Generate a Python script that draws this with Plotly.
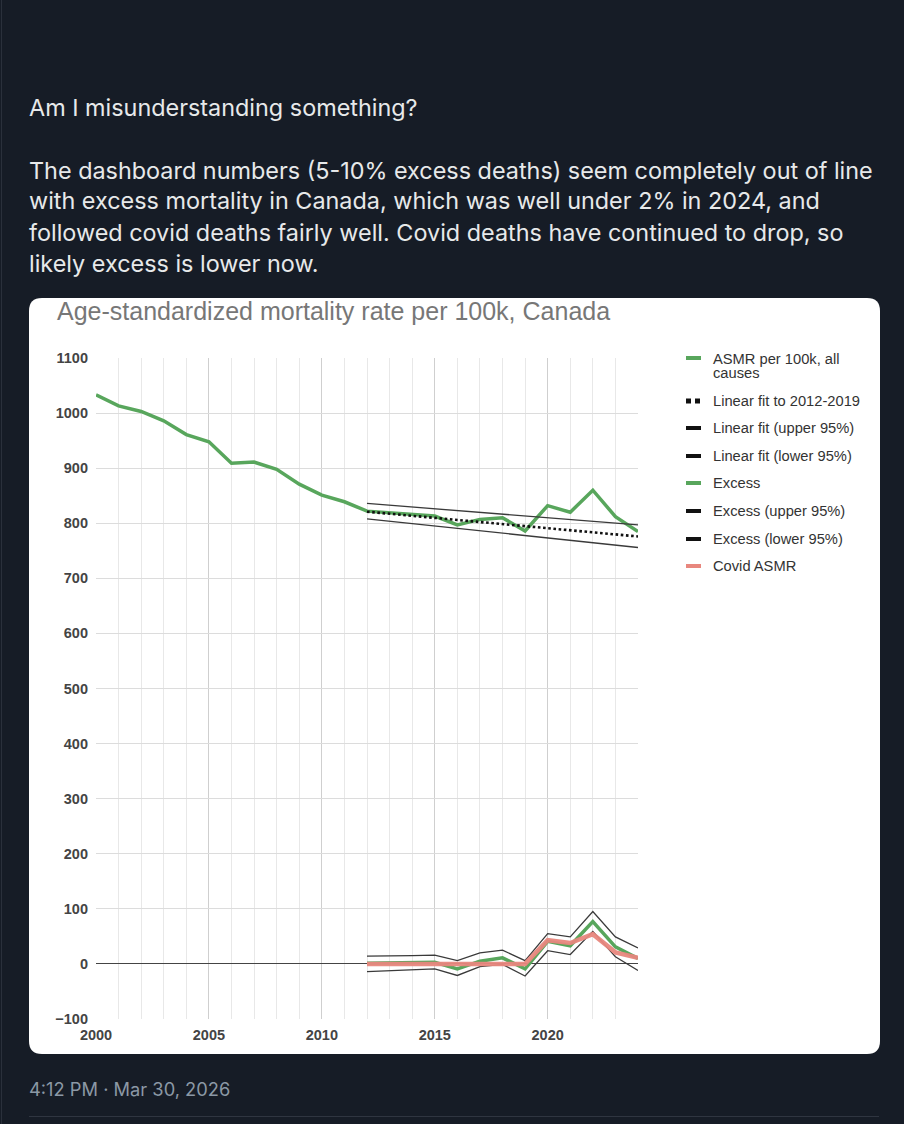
import plotly.graph_objects as go

# ---------------- data ----------------
years = [2000, 2001, 2002, 2003, 2004, 2005, 2006, 2007, 2008, 2009, 2010, 2011,
         2012, 2013, 2014, 2015, 2016, 2017, 2018, 2019, 2020, 2021, 2022, 2023, 2024]
asmr = [1033, 1013, 1003, 986, 961, 948, 909, 911, 898, 871, 851, 839,
        822, 819, 817, 813, 797, 807, 810, 786, 832, 820, 860, 812, 785]

fit_years = [2012, 2024]
fit_mid = [821, 776]
fit_upper = [836, 797]
fit_lower = [808, 756]

ex_years = [2012, 2013, 2014, 2015, 2016, 2017, 2018, 2019, 2020, 2021, 2022, 2023, 2024]
excess = [1, 2, 3, 3, -9, 5, 11, -9, 41, 33, 77, 31, 10]
excess_upper = [14, 14, 15, 16, 6, 20, 25, 6, 55, 49, 95, 49, 29]
excess_lower = [-14, -12, -10, -9, -21, -5, -1, -22, 24, 17, 59, 13, -12]
covid = [0, 0, 0, 0, 0, 0, 0, 0, 43, 38, 54, 21, 11]

legend_labels = ["ASMR per 100k, all", "causes", "Linear fit to 2012-2019",
                 "Linear fit (upper 95%)", "Linear fit (lower 95%)", "Excess",
                 "Excess (upper 95%)", "Excess (lower 95%)", "Covid ASMR"]

heading = "Am I misunderstanding something?"
paragraph = ["The dashboard numbers (5-10% excess deaths) seem completely out of line",
             "with excess mortality in Canada, which was well under 2% in 2024, and",
             "followed covid deaths fairly well. Covid deaths have continued to drop, so",
             "likely excess is lower now."]
chart_title = "Age-standardized mortality rate per 100k, Canada"
timestamp = "4:12 PM \u00b7 Mar 30, 2026"

# ---------------- geometry ----------------
W, H = 904, 1124
X0, X1 = 96, 638      # plot area left/right in px
Y0, Y1 = 358, 1019    # plot area top/bottom in px

def px(x):
    return (x - X0) / (X1 - X0)

def py(y):
    return (Y1 - y) / (Y1 - Y0)

GREEN = "#58a65c"
PINK = "#e8877e"
DARK = "#3a3a3a"
BG = "#161c26"
CHART_FONT = "Liberation Sans, Arial, sans-serif"
POST_FONT = "Inter, Roboto, sans-serif"

fig = go.Figure()
fig.add_trace(go.Scatter(x=years, y=asmr, mode="lines",
                         line=dict(color=GREEN, width=3.5), name="ASMR"))
fig.add_trace(go.Scatter(x=fit_years, y=fit_mid, mode="lines",
                         line=dict(color="#111111", width=2.6, dash="2.6px,2.6px"), name="fit"))
fig.add_trace(go.Scatter(x=fit_years, y=fit_upper, mode="lines",
                         line=dict(color=DARK, width=1.3), name="fit upper"))
fig.add_trace(go.Scatter(x=fit_years, y=fit_lower, mode="lines",
                         line=dict(color=DARK, width=1.3), name="fit lower"))
fig.add_trace(go.Scatter(x=ex_years, y=excess, mode="lines",
                         line=dict(color=GREEN, width=3.5), name="Excess"))
fig.add_trace(go.Scatter(x=ex_years, y=excess_upper, mode="lines",
                         line=dict(color=DARK, width=1.3), name="Excess upper"))
fig.add_trace(go.Scatter(x=ex_years, y=excess_lower, mode="lines",
                         line=dict(color=DARK, width=1.3), name="Excess lower"))
fig.add_trace(go.Scatter(x=ex_years, y=covid, mode="lines",
                         line=dict(color=PINK, width=4.5), opacity=0.95, name="Covid"))

shapes = []
# white rounded card
L, T, R, B, r = 29, 298, 880, 1054, 13
def P(x, y):
    return f"{px(x)},{py(y)}"
path = (f"M {P(L+r,T)} L {P(R-r,T)} Q {P(R,T)} {P(R,T+r)} L {P(R,B-r)} "
        f"Q {P(R,B)} {P(R-r,B)} L {P(L+r,B)} Q {P(L,B)} {P(L,B-r)} "
        f"L {P(L,T+r)} Q {P(L,T)} {P(L+r,T)} Z")
shapes.append(dict(type="path", xref="paper", yref="paper", path=path,
                   fillcolor="white", line=dict(width=0), layer="below"))
# separator and left border
shapes.append(dict(type="line", xref="paper", yref="paper",
                   x0=px(29), x1=px(879), y0=py(1116.5), y1=py(1116.5),
                   line=dict(color="#2f3540", width=1)))
shapes.append(dict(type="line", xref="paper", yref="paper",
                   x0=px(1.5), x1=px(1.5), y0=py(0), y1=py(H),
                   line=dict(color="#2a303b", width=1)))

# manual legend
leg_y = [358, None, 401, 428, 456, 483, 511, 539, 566]
leg_col = [GREEN, None, "dots", "#111", "#111", GREEN, "#111", "#111", PINK]
for yy, c in zip(leg_y, leg_col):
    if yy is None:
        continue
    if c == "dots":
        for xa in (686, 695):
            shapes.append(dict(type="rect", xref="paper", yref="paper",
                               x0=px(xa), x1=px(xa + 5), y0=py(yy - 2.5), y1=py(yy + 2.5),
                               fillcolor="#111", line=dict(width=0)))
    else:
        shapes.append(dict(type="line", xref="paper", yref="paper",
                           x0=px(686), x1=px(701), y0=py(yy), y1=py(yy),
                           line=dict(color=c, width=4)))

annotations = []
leg_text_y = [359, 373, 401, 428, 456, 483, 511, 539, 566]
for lab, yy in zip(legend_labels, leg_text_y):
    annotations.append(dict(x=px(711), y=py(yy), xref="paper", yref="paper",
                            text=lab, showarrow=False, xanchor="left", yanchor="middle",
                            font=dict(family=CHART_FONT, size=14.7, color="#333333")))

annotations.append(dict(x=px(55), y=py(311), xref="paper", yref="paper",
                        text=chart_title, showarrow=False, xanchor="left", yanchor="middle",
                        font=dict(family=CHART_FONT, size=25, color="#777777")))

annotations.append(dict(x=px(27), y=py(107), xref="paper", yref="paper",
                        text=heading, showarrow=False, xanchor="left", yanchor="middle",
                        font=dict(family=POST_FONT, size=23.4, color="#e7e9ea")))
for line, yy in zip(paragraph, [170, 201, 233, 264]):
    annotations.append(dict(x=px(27), y=py(yy), xref="paper", yref="paper",
                            text=line, showarrow=False, xanchor="left", yanchor="middle",
                            font=dict(family=POST_FONT, size=23.4, color="#e7e9ea")))
annotations.append(dict(x=px(27), y=py(1089), xref="paper", yref="paper",
                        text=timestamp, showarrow=False, xanchor="left", yanchor="middle",
                        font=dict(family=POST_FONT, size=18.3, color="#8b98a5")))

fig.update_layout(
    width=W, height=H,
    margin=dict(l=X0, r=W - X1, t=Y0, b=H - Y1, pad=0),
    paper_bgcolor=BG, plot_bgcolor="white",
    showlegend=False,
    shapes=shapes, annotations=annotations,
    xaxis=dict(range=[2000, 2024], tick0=2000, dtick=5, showline=False, zeroline=False,
               gridcolor="#cfcfcf", gridwidth=1, ticks="",
               tickfont=dict(family=CHART_FONT, size=14.5, color="#444444", weight="bold"),
               minor=dict(dtick=1, showgrid=True, gridcolor="#e8e8e8", gridwidth=1),
               ticklabelstandoff=5, fixedrange=True),
    yaxis=dict(range=[-100, 1100], dtick=100, showline=False,
               gridcolor="#dcdcdc", gridwidth=1, ticks="",
               zeroline=True, zerolinecolor="#444444", zerolinewidth=1.3,
               tickfont=dict(family=CHART_FONT, size=14.5, color="#444444", weight="bold"),
               ticklabelstandoff=7, fixedrange=True),
)

fig.write_html("out.html")
